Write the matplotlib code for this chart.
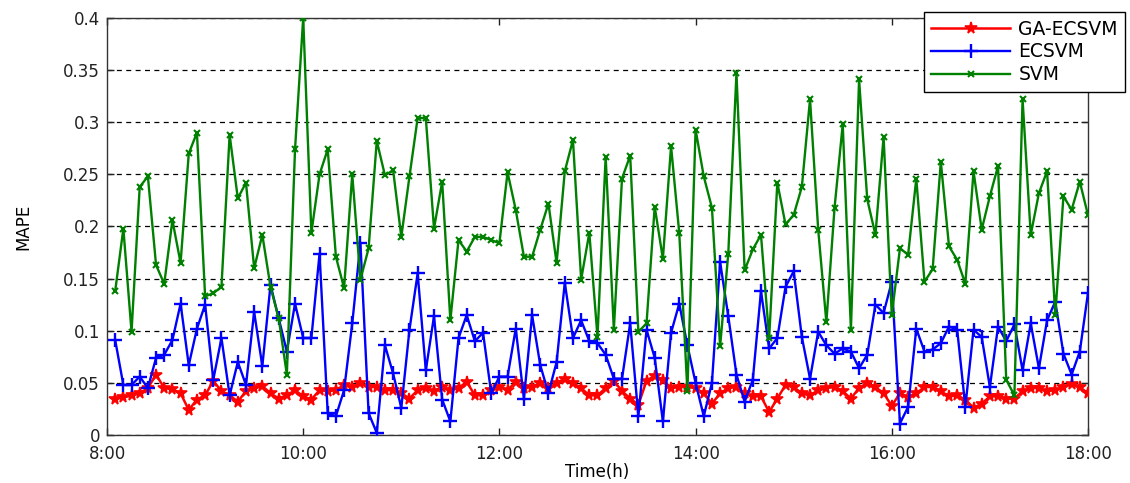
import matplotlib
matplotlib.use("Agg")
import matplotlib.pyplot as plt
import numpy as np

plt.rcParams['font.family'] = ['DejaVu Sans']

# sample times: every 5 minutes from 8:05 to 18:00 (hours)
minutes_after_8 = np.arange(5, 601, 5)
time_h = 8 + minutes_after_8 / 60.0

ga_ecsvm = [0.035, 0.036, 0.038, 0.040, 0.045, 0.058, 0.045, 0.044, 0.040, 0.024,
            0.034, 0.038, 0.052, 0.042, 0.038, 0.032, 0.042, 0.045, 0.047, 0.040,
            0.035, 0.038, 0.043, 0.037, 0.034, 0.043, 0.042, 0.043, 0.048,
            0.046, 0.050, 0.046, 0.046, 0.043, 0.043, 0.040, 0.035, 0.043, 0.045,
            0.042, 0.046, 0.043, 0.045, 0.051, 0.038, 0.038, 0.043, 0.046, 0.043,
            0.051, 0.045, 0.046, 0.050, 0.045, 0.050, 0.054, 0.050, 0.045, 0.038,
            0.038, 0.045, 0.052, 0.042, 0.035, 0.029, 0.052, 0.057, 0.053, 0.045,
            0.046, 0.046, 0.045, 0.040, 0.030, 0.040, 0.045, 0.046, 0.040, 0.037,
            0.037, 0.022, 0.035, 0.048, 0.046, 0.040, 0.038, 0.043, 0.045, 0.046, 0.042,
            0.035, 0.045, 0.050, 0.046, 0.040, 0.028, 0.040, 0.036, 0.040, 0.046,
            0.046, 0.042, 0.037, 0.038, 0.034, 0.026, 0.030, 0.037, 0.037, 0.035,
            0.035, 0.042, 0.045, 0.045, 0.042, 0.043, 0.046, 0.049, 0.046, 0.040]

ecsvm = [0.091, 0.048, 0.048, 0.056, 0.045, 0.074, 0.077, 0.091, 0.126, 0.067,
         0.102, 0.125, 0.053, 0.093, 0.038, 0.070, 0.048, 0.118, 0.066, 0.144,
         0.112, 0.080, 0.126, 0.093,
         0.093, 0.174, 0.021, 0.018, 0.043, 0.107, 0.184, 0.021, 0.002, 0.086,
         0.059, 0.026, 0.101, 0.155, 0.062, 0.114, 0.034, 0.013, 0.093, 0.115,
         0.090, 0.098, 0.040, 0.056,
         0.056, 0.102, 0.035, 0.115, 0.067, 0.040, 0.070, 0.146, 0.093, 0.110,
         0.090, 0.088, 0.077, 0.054, 0.054, 0.107, 0.018, 0.101, 0.074, 0.013,
         0.098, 0.126, 0.086, 0.050,
         0.018, 0.050, 0.166, 0.114, 0.058, 0.032, 0.053, 0.138, 0.083, 0.093,
         0.142, 0.157, 0.094, 0.054, 0.099, 0.086, 0.078, 0.083, 0.080, 0.064,
         0.077, 0.125, 0.117, 0.147,
         0.011, 0.027, 0.102, 0.080, 0.082, 0.088, 0.104, 0.101, 0.027, 0.101,
         0.094, 0.046, 0.104, 0.090, 0.106, 0.062, 0.107, 0.064, 0.110, 0.128,
         0.078, 0.058, 0.080, 0.136]

svm = [0.138, 0.198, 0.099, 0.238, 0.248, 0.163, 0.145, 0.206, 0.165, 0.270,
       0.290, 0.133, 0.136, 0.142, 0.288, 0.227, 0.242, 0.160, 0.192, 0.142,
       0.112, 0.058, 0.274, 0.400,
       0.194, 0.250, 0.274, 0.171, 0.141, 0.250, 0.149, 0.179, 0.282, 0.249,
       0.254, 0.190, 0.248, 0.304, 0.304, 0.198, 0.243, 0.110, 0.187, 0.176,
       0.190, 0.190, 0.187, 0.184,
       0.252, 0.216, 0.171, 0.171, 0.197, 0.222, 0.165, 0.253, 0.283, 0.149,
       0.194, 0.094, 0.267, 0.101, 0.246, 0.268, 0.099, 0.107, 0.219, 0.169,
       0.277, 0.194, 0.042, 0.293,
       0.248, 0.218, 0.085, 0.174, 0.347, 0.158, 0.178, 0.192, 0.093, 0.242,
       0.202, 0.211, 0.238, 0.322, 0.197, 0.108, 0.218, 0.298, 0.101, 0.341,
       0.226, 0.192, 0.286, 0.115,
       0.179, 0.173, 0.246, 0.147, 0.159, 0.262, 0.181, 0.168, 0.145, 0.253,
       0.197, 0.229, 0.258, 0.053, 0.038, 0.322, 0.192, 0.232, 0.253, 0.115,
       0.229, 0.216, 0.243, 0.211]

series_names = ["GA-ECSVM", "ECSVM", "SVM"]
x_tick_vals = [8, 10, 12, 14, 16, 18]
x_tick_labels = ["8:00", "10:00", "12:00", "14:00", "16:00", "18:00"]
y_tick_vals = [0, 0.05, 0.1, 0.15, 0.2, 0.25, 0.3, 0.35, 0.4]
y_tick_labels = ["0", "0.05", "0.1", "0.15", "0.2", "0.25", "0.3", "0.35", "0.4"]

fig = plt.figure(figsize=(11.3, 4.83), dpi=100)
ax = fig.add_axes([0.0947, 0.0994, 0.8681, 0.8634])

green = (0.0, 0.5, 0.0)
ax.plot(time_h, ga_ecsvm, color='red', lw=1.8, marker='*', ms=8.5, mew=1.2,
        label=series_names[0], zorder=3)
ax.plot(time_h, ecsvm, color='blue', lw=1.7, marker='+', ms=10, mew=1.7,
        label=series_names[1], zorder=4)
ax.plot(time_h, svm, color=green, lw=1.7, marker='x', ms=5, mew=1.5,
        label=series_names[2], zorder=5)

ax.set_xlim(8, 18)
ax.set_ylim(0, 0.4)
ax.set_xticks(x_tick_vals)
ax.set_xticklabels(x_tick_labels)
ax.set_yticks(y_tick_vals)
ax.set_yticklabels(y_tick_labels)
ax.tick_params(direction='in', top=True, right=True, length=5, width=1,
               labelsize=12, colors='#222222')
ax.tick_params(axis='x', pad=7)
ax.tick_params(axis='y', pad=5)
ax.yaxis.grid(True, linestyle=(0, (4, 3.5)), color='black', lw=0.9)
ax.xaxis.grid(False)
ax.set_axisbelow(True)
for s in ax.spines.values():
    s.set_color('#333333')
    s.set_linewidth(1.0)

ax.set_xlabel("Time(h)", fontsize=12, labelpad=0)
ax.set_ylabel("MAPE", fontsize=12, labelpad=22)

leg = ax.legend(loc='upper right', bbox_to_anchor=(0.996, 0.975),
                bbox_transform=fig.transFigure, borderaxespad=0,
                fancybox=False, edgecolor='black', framealpha=1,
                fontsize=13.5, handlelength=4.2, handletextpad=0.45,
                labelspacing=0.2, borderpad=0.4)
leg.get_frame().set_linewidth(1.0)
leg.set_zorder(10)

fig.savefig("out.png", dpi=100)
